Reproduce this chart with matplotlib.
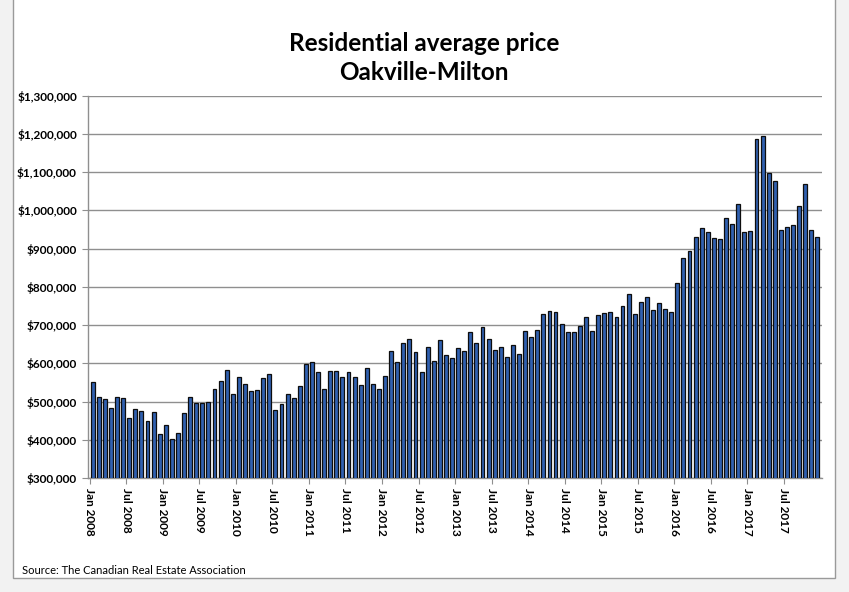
import matplotlib
matplotlib.use("Agg")
import matplotlib.pyplot as plt
from matplotlib.patches import Rectangle

plt.rcParams['font.family'] = ['Lato', 'DejaVu Sans']

years = list(range(2008, 2018))
months = ['Jan', 'Feb', 'Mar', 'Apr', 'May', 'Jun', 'Jul', 'Aug', 'Sep', 'Oct', 'Nov', 'Dec']
categories = [f"{m} {y}" for y in years for m in months]

prices = [
    551000, 513000, 506000, 483000, 511000, 510000, 457000, 480000, 475000, 450000, 473000, 416000,
    438000, 403000, 419000, 470000, 511000, 497000, 497000, 499000, 534000, 553000, 582000, 519000,
    563000, 546000, 528000, 529000, 562000, 572000, 479000, 493000, 521000, 510000, 541000, 598000,
    603000, 578000, 534000, 580000, 580000, 563000, 577000, 563000, 542000, 588000, 545000, 532000,
    567000, 631000, 604000, 652000, 663000, 629000, 576000, 642000, 607000, 660000, 622000, 614000,
    639000, 632000, 682000, 654000, 694000, 663000, 636000, 642000, 616000, 649000, 625000, 684000,
    668000, 686000, 728000, 737000, 733000, 703000, 681000, 683000, 698000, 722000, 685000, 727000,
    732000, 734000, 720000, 750000, 781000, 728000, 760000, 773000, 739000, 757000, 742000, 734000,
    810000, 876000, 894000, 930000, 953000, 943000, 927000, 925000, 979000, 964000, 1017000, 944000,
    947000, 1187000, 1195000, 1097000, 1078000, 948000, 956000, 961000, 1011000, 1070000, 949000, 931000,
]

yticks = list(range(300000, 1300001, 100000))
title = "Residential average price\nOakville-Milton"
source = "Source: The Canadian Real Estate Association"

W, H = 849, 592
fig = plt.figure(figsize=(W / 100, H / 100), dpi=100)
fig.patch.set_facecolor('#f2f2f2')
# white panel with gray border
panel = Rectangle((13 / W, (H - 578) / H), (835 - 13) / W, 1.2, transform=fig.transFigure,
                  facecolor='white', edgecolor='#9a9a9a', linewidth=1.0, zorder=-5)
fig.patches.append(panel)

ax = fig.add_axes([88 / W, (H - 478) / H, (822 - 88) / W, (478 - 95.7) / H])
ax.set_zorder(2)
ax.set_facecolor('white')
x = list(range(len(prices)))
ax.bar(x, prices, width=0.64, color='#3060b0', edgecolor='#0d0d0d', linewidth=0.9, zorder=3)

ax.set_ylim(300000, 1300000)
ax.set_xlim(-0.77, 119.75)
ax.set_yticks(yticks)
ax.set_yticklabels([f"${v:,.0f}" for v in yticks], fontsize=8.5, fontweight='bold')
ax.grid(axis='y', color='#8f8f8f', linewidth=1.0, zorder=0)
ax.set_axisbelow(True)

tick_idx = [i for i in x if i % 6 == 0]
ax.set_xticks([i - 0.5 for i in tick_idx])
ax.set_xticklabels([categories[i] for i in tick_idx], rotation=270, fontsize=8.5,
                   fontweight='bold', va='top', ha='center')
ax.tick_params(axis='x', length=4, color='#8f8f8f', pad=3)
ax.tick_params(axis='y', length=4, color='#8f8f8f', pad=4)

for s in ['top', 'right']:
    ax.spines[s].set_visible(False)
for s in ['left', 'bottom']:
    ax.spines[s].set_color('#8f8f8f')
    ax.spines[s].set_linewidth(1.0)

fig.text(424 / W, 1 - 58 / H, title, ha='center', va='center', fontsize=17.5,
         fontweight='bold', linespacing=1.3)
fig.text(22 / W, 1 - 570 / H, source, ha='left', va='center', fontsize=8)

fig.savefig('out.png', dpi=100, facecolor=fig.get_facecolor())
